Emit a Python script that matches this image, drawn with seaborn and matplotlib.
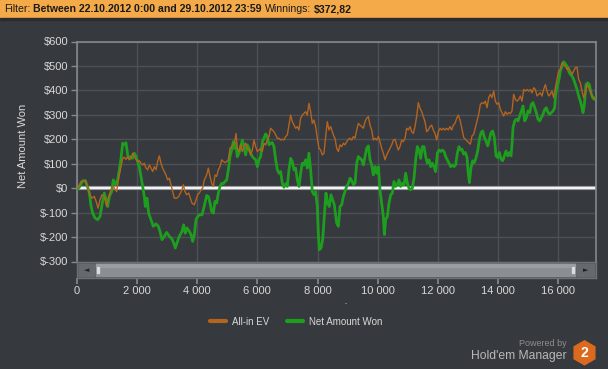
import numpy as np
import pandas as pd
import matplotlib
matplotlib.use("Agg")
import matplotlib.pyplot as plt
import seaborn as sns
from matplotlib.patches import Rectangle, RegularPolygon
from matplotlib.lines import Line2D

# ---------------- data ----------------
ev_hands = [0, 32, 143, 287, 364, 442, 508, 586, 663, 708, 774, 840, 918, 995, 1062, 1139, 1217, 1283, 1327, 1394, 1472,
            1527, 1582, 1637, 1693, 1748, 1804, 1859, 1914, 1970, 2025, 2080, 2136, 2191, 2246, 2302, 2357, 2412, 2468,
            2523, 2578, 2634, 2689, 2744, 2800, 2855, 2910, 2966, 3021, 3077, 3132, 3187, 3243, 3320, 3387, 3442, 3497,
            3542, 3597, 3652, 3719, 3774, 3829, 3907, 3963, 4018, 4073, 4128, 4184, 4239,
            4317, 4373, 4428, 4483, 4539, 4594, 4649, 4705, 4760, 4815, 4871, 4926, 4982, 5037, 5092, 5148, 5203, 5258,
            5291, 5336, 5391, 5446, 5502, 5557, 5612, 5668, 5723, 5778, 5834, 5889, 5944, 6000, 6055, 6110, 6166, 6221,
            6276, 6332, 6387, 6442, 6498, 6553, 6609, 6664, 6719, 6775, 6830, 6885, 6941, 6996, 7051, 7107, 7162, 7218,
            7273, 7328, 7383, 7439, 7494, 7549, 7605, 7660, 7715, 7771, 7826, 7882, 7937, 7992, 8048, 8103, 8159, 8214,
            8270, 8325, 8380, 8436, 8491, 8546,
            8581, 8636, 8692, 8747, 8802, 8858, 8913, 8968, 9024, 9079, 9134, 9190, 9245, 9301, 9356, 9411, 9467, 9522,
            9577, 9633, 9688, 9743, 9799, 9854, 9909, 9965, 10020, 10075, 10131, 10186, 10241, 10297, 10352, 10407,
            10463, 10518, 10573, 10629, 10684, 10739, 10795, 10850, 10905, 10961, 11016, 11072, 11127, 11182, 11237,
            11293, 11348, 11403, 11459, 11514, 11570, 11625, 11680, 11736, 11791, 11846, 11902, 11957, 12013, 12068,
            12123, 12179, 12234, 12289, 12345, 12400, 12455, 12511, 12566, 12622, 12677, 12732,
            12800, 12855, 12911, 12966, 13021, 13077, 13132, 13187, 13243, 13298, 13353, 13409, 13464, 13519, 13575,
            13630, 13686, 13741, 13796, 13852, 13907, 13962, 14018, 14073, 14128, 14184, 14239, 14294, 14350, 14405,
            14460, 14516, 14571, 14627, 14682, 14737, 14793, 14848, 14903, 14959, 15014, 15069, 15125, 15180, 15235,
            15291, 15346, 15401, 15457, 15512, 15567, 15623, 15678, 15733, 15789, 15844, 15900, 15955, 16010, 16066,
            16121, 16176, 16232, 16287, 16342, 16398, 16453, 16508, 16564, 16619, 16674, 16730, 16785, 16840, 16896,
            16951, 17007, 17062, 17117, 17173, 17240]
ev_values = [0, 0, 27, 31, 4, -27, -41, -34, -61, -82, -48, -27, -34, -75, -34, -7, 7, -7, -14, 41, 88,
             122, 126, 118, 129, 116, 122, 143, 132, 118, 109, 112, 102, 95, 102, 82, 75, 95, 82, 68,
             88, 75, 109, 132, 102, 82, 68, 54, 34, 41, 14, -14, -41, -41, -34, -20, -7,
             14, -14, -27, -20, -41, -61, -68, -48, -27, -20, -7, 0, 34,
             54, 82, 48, 20, 7, 54, 48, 75, 88, 116, 109, 105, 109, 116, 163, 170, 177, 197,
             224, 163, 150, 177, 150, 170, 184, 163, 156, 136, 156, 197, 170, 150, 156, 163, 150, 184,
             177, 197, 211, 245, 238, 231, 218, 204, 204, 197, 200, 197, 211, 218, 258, 299, 272, 258,
             245, 252, 238, 286, 299, 306, 313, 299, 347, 313, 265, 279, 252, 204, 163, 156, 136, 143,
             211, 272, 238, 252, 231, 211,
             204, 163, 150, 177, 170, 184, 177, 190, 200, 204, 197, 211, 204, 238, 265, 258, 252, 245,
             272, 286, 293, 258, 238, 197, 204, 197, 211, 190, 163, 143, 116, 136, 150, 163,
             177, 197, 200, 177, 156, 170, 197, 190, 204, 245, 238, 252, 231, 224, 252,
             293, 350, 327, 313, 293, 272, 231, 238, 252, 258, 238, 224, 197, 231, 245,
             238, 245, 238, 245, 238, 252, 238, 258, 265, 286, 299, 279,
             241, 207, 200, 193, 186, 180, 214, 220, 248, 275, 302, 343, 350, 346, 356,
             329, 370, 384, 370, 397, 356, 343, 350, 322, 309, 295, 313, 302, 309, 305,
             316, 384, 363, 356, 363, 377, 356, 404, 397, 404, 397, 404, 390, 411, 404,
             377, 384, 390, 377, 404, 424, 397, 377, 384, 397, 370, 411, 445, 479, 486,
             513, 506, 499, 486, 493, 479, 465, 479, 493, 495, 445, 431, 397, 370, 390,
             424, 411, 397, 377, 370, 363]

net_hands = [0, 32, 88, 198, 287, 364, 420, 475, 530, 608, 697, 774, 840, 918, 973, 1029, 1084, 1161, 1217, 1283, 1360,
             1416, 1472, 1527, 1582, 1637, 1693, 1748, 1804, 1859, 1914, 1970, 2025, 2080, 2136, 2191, 2246, 2280, 2335,
             2390, 2468, 2545, 2634, 2711, 2767, 2833, 2910, 2988, 3077, 3165, 3221, 3276, 3331, 3409, 3497, 3553, 3608,
             3664, 3741, 3796, 3852, 3907, 3963, 4018, 4073, 4162, 4239,
             4317, 4373, 4428, 4483, 4539, 4594, 4649, 4705, 4760, 4815, 4871, 4926, 4982, 5037, 5092, 5148, 5203, 5236,
             5280, 5336, 5391, 5446, 5502, 5557, 5612, 5668, 5723, 5778, 5834, 5889, 5944, 6000, 6055, 6110, 6166, 6221,
             6276, 6332, 6387, 6442, 6498, 6553, 6609, 6664, 6719, 6775, 6830, 6885, 6941, 6996, 7051, 7107, 7162, 7218,
             7273, 7328, 7383, 7439, 7494, 7549, 7605, 7660, 7715, 7771, 7826, 7882, 7937, 7992, 8026, 8059, 8114, 8170,
             8225, 8280, 8336, 8391, 8446, 8502, 8557,
             8636, 8692, 8747, 8802, 8858, 8913, 8968, 9024, 9079, 9134, 9190, 9245, 9301, 9356, 9411, 9467, 9522, 9577,
             9633, 9688, 9743, 9799, 9854, 9909, 9965, 10020, 10075, 10131, 10186, 10219, 10264, 10319, 10374, 10430,
             10485, 10540, 10596, 10651, 10706, 10762, 10817, 10872, 10928, 10983, 11038, 11094, 11149, 11204, 11260,
             11315, 11370, 11426, 11481, 11537, 11592, 11647, 11703, 11758, 11813, 11869, 11924, 11979, 12035, 12090,
             12145, 12201, 12256, 12311, 12367, 12422, 12477, 12533, 12588, 12644, 12699, 12754,
             12800, 12855, 12911, 12966, 12999, 13044, 13099, 13154, 13210, 13265, 13320, 13376, 13431, 13486, 13542,
             13597, 13652, 13708, 13763, 13818, 13874, 13929, 13984, 14040, 14095, 14150, 14206, 14261, 14317, 14372,
             14427, 14460, 14494, 14549, 14604, 14660, 14715, 14770, 14826, 14881, 14936, 14992, 15047, 15102, 15158,
             15213, 15268, 15324, 15379, 15434, 15490, 15545, 15600, 15656, 15711, 15766, 15822, 15877, 15910, 15955,
             16010, 16066, 16121, 16176, 16232, 16287, 16342, 16398, 16453, 16508, 16564, 16619, 16674, 16730, 16785,
             16818, 16863, 16918, 16973, 17029, 17084, 17139, 17195, 17240]
net_values = [0, -4, 4, 30, 31, 4, -20, -72, -102, -122, -129, -116, -68, -20, -48, -75, -34, -14, 34, 14, 34,
              75, 122, 184, 177, 186, 136, 122, 129, 122, 143, 129, 109, 88, 48, 7, -34, -75, -41,
              -102, -129, -156, -146, -156, -177, -211, -197, -181, -197, -208, -224, -245, -224, -197, -177, -150, -184,
              -163, -177, -190, -218, -190, -129, -116, -109, -109, -72,
              -30, -34, -61, -95, -102, -54, -61, -20, 7, 20, 18, 27, 34, 75, 129, 156, 190, 163,
              184, 129, 143, 170, 197, 170, 136, 177, 163, 143, 129, 122, 116, 88, 116, 129, 190, 204,
              222, 211, 177, 184, 186, 170, 116, 75, 61, 68, 20, 4, 18, 7, 75, 122, 109, 75,
              82, 34, 7, 61, 102, 95, 116, 82, 143, 75, -14, -27, -14, -75, -184, -252, -245, -211,
              -116, -20, -61, -75, -27, -48, -68,
              -143, -156, -75, -68, -34, -14, 7, 20, 41, 31, 14, 20, 102, 129, 122, 116, 95, 129,
              163, 173, 116, 95, 54, 88, 61, 88, -7, -61, -116, -190, -129, -116, -61, -27,
              -20, 27, 7, 14, 34, 7, 20, 14, 61, 20, 0, -7, 0, 41, 116,
              170, 156, 122, 170, 170, 129, 102, 116, 88, 102, 88, 68, 143, 156, 150,
              156, 150, 129, 116, 102, 88, 95, 88, 95, 143, 170, 156,
              159, 139, 146, 125, 71, 23, 84, 112, 105, 125, 152, 200, 227, 234, 207,
              193, 173, 200, 227, 234, 207, 132, 125, 146, 118, 112, 132, 152, 132, 146,
              132, 180, 248, 275, 282, 275, 295, 316, 336, 275, 288, 316, 309, 343, 350,
              329, 309, 282, 275, 288, 302, 322, 329, 309, 302, 309, 316, 329, 384, 411,
              438, 479, 499, 517, 509, 499, 479, 465, 459, 445, 424, 404, 377, 356, 329,
              309, 343, 424, 431, 424, 390, 370, 363, 373]

series_names = ["All-in EV", "Net Amount Won"]
x_ticks = [0, 2000, 4000, 6000, 8000, 10000, 12000, 14000, 16000]
y_ticks = [-300, -200, -100, 0, 100, 200, 300, 400, 500, 600]
header_parts = [("Filter:", "normal"), ("Between 22.10.2012 0:00 and 29.10.2012 23:59", "bold"),
                ("Winnings:", "normal"), ("$372,82", "bold")]

# ---------------- style ----------------
BG = "#36393d"
GRID = "#4d5054"
TXT = "#d9d9d9"
ORANGE = "#b4641f"
GREEN = "#1e9e1e"

sns.set_theme(style="dark")
plt.rcParams['font.family'] = ['Liberation Sans', 'DejaVu Sans']

W, H = 608, 369
fig = plt.figure(figsize=(W / 100, H / 100), dpi=100, facecolor=BG)


def fx(px):
    return px / W


def fy(py):
    return 1 - py / H


L, R, T, B = 76.7, 595.7, 41.5, 261.5
ax = fig.add_axes([fx(L), fy(B), (R - L) / W, (B - T) / H])
ax.set_facecolor(BG)

df_ev = pd.DataFrame({"hands": ev_hands, "value": ev_values, "series": series_names[0]})
df_net = pd.DataFrame({"hands": net_hands, "value": net_values, "series": series_names[1]})

ax.axhline(0, color="#8f9296", lw=3.0, zorder=1.5)
ax.axhline(0, color="#f2f2f2", lw=1.6, zorder=1.6)
sns.lineplot(data=df_net, x="hands", y="value", color=GREEN, lw=2.0, ax=ax,
             estimator=None, sort=False, legend=False, zorder=3)
sns.lineplot(data=df_ev, x="hands", y="value", color=ORANGE, lw=1.0, ax=ax,
             estimator=None, sort=False, legend=False, zorder=4)

ax.set_xlim(0, 17240)
ax.set_ylim(-300, 600)
ax.set_xticks(x_ticks)
ax.set_yticks(y_ticks)
ax.set_yticklabels([f"${v}" for v in y_ticks])
ax.set_xticklabels([])
ax.tick_params(axis="x", length=0)
ax.tick_params(axis="y", length=4, color="#85888c", width=1, labelsize=8, labelcolor=TXT, pad=2, left=True)
ax.grid(True, color=GRID, lw=1)
ax.set_axisbelow(True)
ax.set_xlabel("")
ax.set_ylabel("")
for side in ["left", "top", "right"]:
    ax.spines[side].set_visible(True)
    ax.spines[side].set_color("#85888c")
    ax.spines[side].set_linewidth(1.2)
ax.spines["bottom"].set_visible(False)

# ---------------- scrollbar axis ----------------
sax = fig.add_axes([fx(L), fy(278), (R - L) / W, (278 - 262) / H])
sax.set_xlim(0, 17240)
sax.set_ylim(0, 1)
sax.set_facecolor("#55585c")
sax.set_yticks([])
sax.set_xticks(x_ticks)
sax.set_xticklabels([f"{v:,}".replace(",", " ") for v in x_ticks])
sax.tick_params(axis="x", length=4, color="#85888c", labelsize=8, labelcolor=TXT, pad=2, bottom=True)
for s in sax.spines.values():
    s.set_color("#6d7074")
    s.set_linewidth(1)
sax.grid(False)
tr = sax.transAxes
sw = R - L


def ax_x(px):
    return (px - L) / sw


sax.add_patch(Rectangle((ax_x(79), 0.12), ax_x(94) - ax_x(79), 0.76, transform=tr, color="#666a6e", zorder=2))
sax.add_patch(Rectangle((ax_x(577), 0.12), ax_x(594) - ax_x(577), 0.76, transform=tr, color="#666a6e", zorder=2))
sax.add_patch(Rectangle((ax_x(96), 0.12), ax_x(575) - ax_x(96), 0.76, transform=tr, color="#8b8e92", zorder=2))
sax.add_patch(Rectangle((ax_x(96), 0.70), ax_x(575) - ax_x(96), 0.18, transform=tr, color="#9a9da1", zorder=3))
sax.add_patch(Rectangle((ax_x(97), 0.3), ax_x(99) - ax_x(97), 0.4, transform=tr, color="#dcdcdc", zorder=4))
sax.add_patch(Rectangle((ax_x(572), 0.3), ax_x(574) - ax_x(572), 0.4, transform=tr, color="#dcdcdc", zorder=4))
sax.text(ax_x(86.5), 0.5, "◄", transform=tr, ha="center", va="center", fontsize=5,
         color="#222222", family="DejaVu Sans", zorder=5)
sax.text(ax_x(586), 0.5, "►", transform=tr, ha="center", va="center", fontsize=5,
         color="#222222", family="DejaVu Sans", zorder=5)

# ---------------- header ----------------
fig.add_artist(Rectangle((0, fy(17.5)), 1, 17.5 / H, transform=fig.transFigure, color="#f4aa48", zorder=0))
fig.add_artist(Rectangle((0, fy(20)), 1, 2.5 / H, transform=fig.transFigure, color="#2a2c2f", zorder=0))
renderer = fig.canvas.get_renderer()
xpos = 4
for txt, weight in header_parts:
    t = fig.text(fx(xpos), fy(9), txt, fontsize=7.6, fontweight=weight, color="#1a1a1a",
                 ha="left", va="center")
    xpos += t.get_window_extent(renderer).width + 3.0

# ---------------- labels ----------------
fig.text(fx(23), fy(146), "Net Amount Won", rotation=90, fontsize=8, color=TXT, ha="center", va="center")
fig.text(fx(346), fy(304), "-", fontsize=5, color="#bbbbbb", ha="center", va="center")

handles = [Line2D([0], [0], color=ORANGE, lw=3), Line2D([0], [0], color=GREEN, lw=3)]
fig.legend(handles, series_names, loc="center left", bbox_to_anchor=(fx(210), fy(321.7)),
           ncol=2, frameon=False, fontsize=7, labelcolor=TXT, handlelength=1.65,
           handletextpad=0.62, columnspacing=1.85, borderpad=0, borderaxespad=0)

# ---------------- branding ----------------
fig.text(fx(567), fy(343), "Powered by", fontsize=6.5, color="#8e8e8e", ha="right", va="center")
fig.text(fx(567), fy(356), "Hold'em Manager", fontsize=8.7, color="#b8b8b8", ha="right", va="center")
hexa = RegularPolygon((584.5 / 100, (H - 352.8) / 100), numVertices=6, radius=0.12, orientation=0,
                      transform=fig.dpi_scale_trans, color="#dc6a1e")
fig.add_artist(hexa)
fig.text(fx(584.5), fy(353), "2", fontsize=10, fontweight="bold", color="white", ha="center", va="center")

fig.savefig("out.png", dpi=100, facecolor=BG)
